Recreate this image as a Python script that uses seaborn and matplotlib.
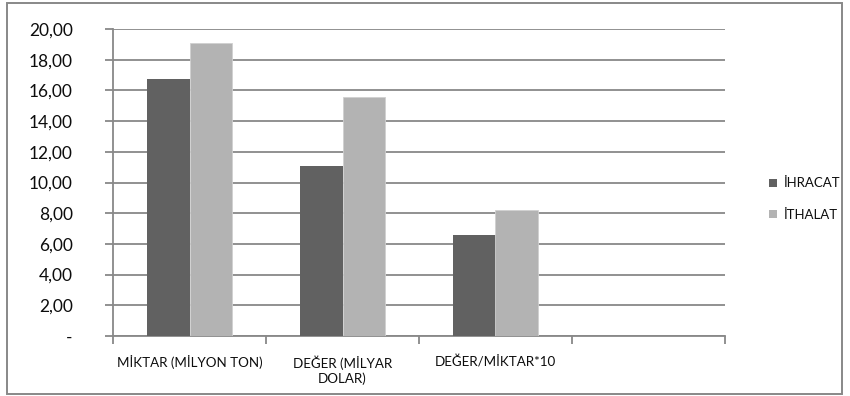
import matplotlib
matplotlib.use("Agg")
import matplotlib.pyplot as plt
from matplotlib.patches import Rectangle, Patch
from matplotlib.ticker import FixedLocator, FuncFormatter
import seaborn as sns
import pandas as pd

categories = ["MİKTAR (MİLYON TON)", "DEĞER (MİLYAR\nDOLAR)", "DEĞER/MİKTAR*10"]
series_names = ["İHRACAT", "İTHALAT"]
ihracat = [16.76, 11.10, 6.58]
ithalat = [19.07, 15.60, 8.21]
colors = ["#616161", "#b3b3b3"]
y_ticks = [0, 2, 4, 6, 8, 10, 12, 14, 16, 18, 20]

df = pd.DataFrame({
    "kategori": categories * 2,
    "seri": [series_names[0]] * 3 + [series_names[1]] * 3,
    "deger": ihracat + ithalat,
})
order = categories + [" "]

sns.set_theme(style="white")
plt.rcParams["font.family"] = ["Lato", "DejaVu Sans"]

grid_color = "#888888"
text_color = "#0d0d0d"
fig = plt.figure(figsize=(8.5, 3.96), dpi=100)
ax = fig.add_axes([113 / 850, 1 - 336 / 396, 612 / 850, 307 / 396])

sns.barplot(data=df, x="kategori", y="deger", hue="seri", order=order,
            hue_order=series_names, palette=colors, width=0.562, gap=0,
            saturation=1, edgecolor="none", linewidth=0, legend=False,
            ax=ax, zorder=3)

# light bars get a faint pale outline
for p in ax.patches[3:]:
    p.set_edgecolor("#d0d0d0")
    p.set_linewidth(0.6)

ax.set_xlim(-0.5, 3.5)
ax.set_ylim(0, 20)
ax.set_xlabel("")
ax.set_ylabel("")

ax.set_yticks(y_ticks)
ax.yaxis.set_major_formatter(FuncFormatter(
    lambda v, _: "-" if v == 0 else f"{v:.2f}".replace(".", ",")))
ax.grid(axis="y", color=grid_color, linewidth=1.3, zorder=0)
ax.set_axisbelow(True)

# category boundaries carry the ticks, labels sit between them
ax.xaxis.set_major_locator(FixedLocator([-0.5, 0.5, 1.5, 2.5, 3.5]))
ax.xaxis.set_major_formatter(FuncFormatter(lambda v, _: ""))
ax.xaxis.set_minor_locator(FixedLocator([0, 1, 2, 3]))
ax.set_xticklabels(order, minor=True)
ax.tick_params(axis="x", which="minor", length=0, pad=14, labelsize=9.6,
               labelcolor=text_color)
ax.tick_params(axis="x", which="major", length=6, width=1.3, color=grid_color,
               direction="out", bottom=True)
ax.tick_params(axis="y", length=6, width=1.3, color=grid_color, pad=23,
               labelsize=12.5, labelcolor=text_color, left=True)

for side in ["top", "right"]:
    ax.spines[side].set_visible(False)
for side in ["left", "bottom"]:
    ax.spines[side].set_color(grid_color)
    ax.spines[side].set_linewidth(1.3)

handles = [Patch(facecolor=c, edgecolor="none") for c in colors]
fig.legend(handles, series_names, loc="center left",
           bbox_to_anchor=(762 / 850, 1 - 199 / 396), frameon=False,
           fontsize=9.5, handlelength=0.6, handleheight=0.6,
           handletextpad=0.55, labelspacing=1.45, borderpad=0,
           labelcolor=text_color)

fig.patches.append(Rectangle((7 / 850, 2 / 396), 835 / 850, 391 / 396,
                             transform=fig.transFigure, fill=False,
                             edgecolor=grid_color, linewidth=1.4))

fig.savefig("out.png", dpi=100)
